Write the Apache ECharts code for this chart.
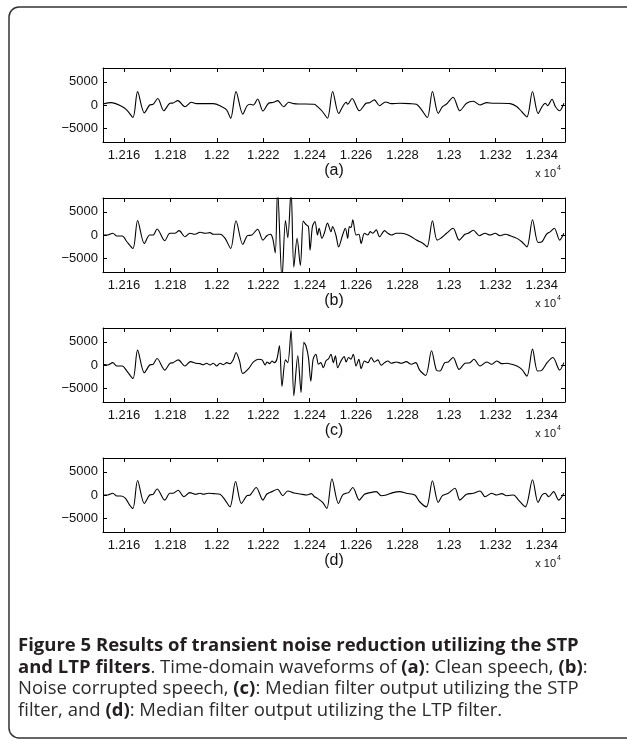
<!DOCTYPE html>
<html>
<head>
<meta charset="utf-8">
<script src="https://cdn.jsdelivr.net/npm/echarts@6/dist/echarts.min.js"></script>
<style>
  html, body { margin: 0; padding: 0; background: #fff; }
  #main { width: 627px; height: 741px; }
</style>
</head>
<body>
<div id="main"></div>
<script>
// sample index / amplitude pairs (vertices of the trace)
const sampA = [12151, 12154.5, 12158.8, 12161.3, 12163.9, 12165.9, 12168.8, 12171.1, 12172.6, 12174.6, 12177.2, 12179.8, 12181.2, 12183.2, 12186.3, 12189.1, 12191.3, 12195.6, 12198.5, 12201.4, 12204.3, 12206, 12208.3, 12211.2, 12213, 12214.4, 12215.8, 12217.6, 12219.9, 12222.3, 12224.5, 12226.2, 12228.8, 12231, 12233.2, 12236, 12242, 12243.4, 12245.6, 12247.7, 12249.9, 12252.5, 12254.2, 12255.7, 12256.4, 12258.3, 12261.4, 12264.3, 12265.8, 12267.9, 12270.1, 12272.7, 12275.2, 12278.8, 12283.1, 12286, 12288.1, 12290.7, 12292.9, 12295.4, 12297.2, 12299, 12301.8, 12304.7, 12307.6, 12310.5, 12313.4, 12316.3, 12319.2, 12322, 12326.4, 12329.3, 12331.4, 12333.6, 12336, 12338.4, 12340.1, 12341.5, 12342.5, 12344.4, 12345.9, 12347.7, 12349.5];
const cleanSpeech = [220, 510, -220, -1100, -2700, 2900, -1700, 0, 150, 1390, -1240, 370, 440, 950, -370, 580, 290, 290, 290, -150, -1100, -2900, 2900, -1970, -220, 150, 0, 1310, -1310, 370, 580, 950, -370, 580, 290, 220, 150, -370, -1460, -2850, 2920, -1830, -370, 580, 150, 1390, -1240, 370, 510, 1100, -150, 660, 290, 370, 290, 150, -950, -2700, 2920, -1830, -370, 220, 1680, -1240, 370, 800, 0, 510, 370, 370, 290, -370, -1460, -2560, 2920, -1830, -370, 370, -150, 1240, -370, -1240, 370];

const sampB = [12151, 12153.1, 12155.2, 12157, 12159.3, 12161.3, 12163.9, 12165.9, 12168.8, 12171.1, 12172.6, 12174.3, 12177.6, 12179.8, 12181.9, 12183.8, 12186.3, 12188.4, 12190.6, 12192.8, 12194.9, 12197.1, 12198.5, 12201.4, 12203.6, 12206, 12208.3, 12211.2, 12213.2, 12215.1, 12217.6, 12219.9, 12221.6, 12223.1, 12224.1, 12225.2, 12226.2, 12228.1, 12229.6, 12230.6, 12232, 12233.2, 12234.6, 12236, 12237.2, 12237.6, 12238.6, 12239.5, 12240.2, 12241.2, 12242.3, 12243.4, 12244.1, 12245.3, 12246.3, 12247.7, 12249.2, 12249.9, 12251.3, 12252.5, 12254.2, 12255.4, 12256.4, 12257.1, 12257.8, 12258.6, 12260, 12261.2, 12262.2, 12263.6, 12265.1, 12266.1, 12267.2, 12268.7, 12270.1, 12272.3, 12273.7, 12275.2, 12277.3, 12279.5, 12281.6, 12283.8, 12286, 12288.9, 12290.6, 12292.9, 12294.9, 12296.4, 12299, 12301.8, 12304.4, 12306.9, 12308.3, 12310.5, 12313.1, 12315.6, 12317.7, 12319.9, 12322, 12324.2, 12326.4, 12329.3, 12331.4, 12333.6, 12336, 12338.4, 12340.1, 12342, 12343.7, 12345.4, 12347.7, 12349.5];
const noisySpeech = [0, 0, 370, -220, -220, -1460, -2920, 3140, -1830, 0, 0, 1310, -1240, 370, 370, 950, -370, 370, 150, 580, 370, 510, 150, 150, -730, -2920, 3070, -2040, -150, 0, 1240, -1100, -150, 150, -730, -3870, 9800, -9500, 3140, -580, 9800, -6940, -730, -6600, 3000, 2770, 2190, 1830, -3290, 1830, 2920, 0, 1460, -730, 370, 2560, 730, 1830, 0, -2560, 0, 1460, -730, 1830, 1610, 3290, 0, 150, -1830, 370, 0, 730, 370, 1100, -370, 950, 370, 0, 370, 370, 150, -370, -1100, -1830, -2560, 3070, -1100, -730, 370, 1460, -1100, 150, 370, 1020, -150, 370, 0, 370, -150, 150, -150, -730, -1460, -2560, 3290, -1610, -1460, 150, 730, 1460, -1100, 370];

const sampC = [12151, 12153.1, 12155.2, 12157, 12159.3, 12161.3, 12163.9, 12165.9, 12168.8, 12171.1, 12172.6, 12174.3, 12177.6, 12179.8, 12181.2, 12183.4, 12186.3, 12188.7, 12191, 12192.8, 12194.2, 12195.6, 12197.1, 12198.5, 12200, 12201.4, 12202.9, 12204.3, 12205.7, 12207.2, 12208.3, 12209.8, 12211.2, 12213.7, 12215.8, 12218, 12219.5, 12220.9, 12221.6, 12222.8, 12223.8, 12224.8, 12225.9, 12227, 12228.1, 12229.6, 12230.6, 12232, 12233.2, 12234.9, 12236.3, 12237.5, 12238.4, 12239.5, 12240.5, 12241.5, 12242.7, 12243.8, 12244.8, 12245.9, 12247, 12248.2, 12249.2, 12250.2, 12251.1, 12252.1, 12253.5, 12254.9, 12255.7, 12256.8, 12257.8, 12258.8, 12260, 12261.2, 12262.2, 12263.6, 12265.1, 12266.5, 12267.9, 12269.4, 12270.8, 12272.3, 12273.7, 12275.2, 12277.3, 12279.5, 12281.6, 12283.8, 12285.7, 12287.4, 12290, 12292.5, 12294.6, 12296.1, 12298.2, 12299.7, 12301.8, 12304.4, 12306.9, 12309.1, 12310.8, 12313.4, 12316.3, 12318.4, 12320.6, 12322.8, 12324.9, 12327.1, 12329.3, 12331.4, 12333.6, 12336, 12338.2, 12340.1, 12342.3, 12344.8, 12347.7, 12349.5];
const stpOutput = [150, 0, 510, -220, -220, -1310, -2920, 3210, -1680, 0, 150, 1390, -1100, 370, 510, 1100, -220, 730, 370, 290, 70, 370, 0, 370, -220, 370, 70, 510, 290, 1240, 2700, 880, -1830, -800, 660, 1240, 1100, 0, 660, 290, 880, 510, 1240, 4160, -4600, 1100, 510, 7450, -6640, 1970, -5910, 4890, 4160, 1610, -3500, 1240, 2340, 150, 510, -580, 880, 1390, 2340, 510, 1970, -580, 880, 1830, 660, 1610, 1240, 2340, -220, 1240, -800, 880, 510, 1610, 660, 1100, -70, 510, 880, 370, 660, 370, 730, 150, 510, -1100, -2260, 3070, -1100, -1310, 510, 660, 1610, -950, 370, 510, 1240, -220, 660, 150, 880, 290, 370, 150, -220, -950, -2410, 3430, -1310, -1100, 510, 1610, -1100, 510];

const sampD = [12151, 12153.1, 12155.2, 12157, 12158.8, 12160.7, 12162.5, 12163.9, 12165.9, 12168.8, 12171.1, 12172.6, 12174.3, 12177.6, 12179.8, 12181.2, 12183.4, 12185.8, 12188.4, 12191, 12192.8, 12194.2, 12196.4, 12198.5, 12201.4, 12203.6, 12205.7, 12208.1, 12210.6, 12213, 12214.4, 12217, 12219.9, 12221.6, 12223.8, 12226.2, 12228.4, 12230.6, 12233.2, 12236, 12238.9, 12240.7, 12242.1, 12243.4, 12245.6, 12247.4, 12249.6, 12252.4, 12254.2, 12255.7, 12256.8, 12258.6, 12261.4, 12263.6, 12266.1, 12268.7, 12270.8, 12273, 12275.9, 12278.8, 12281.6, 12285.3, 12287.4, 12290.3, 12292.9, 12295.4, 12297.2, 12299.7, 12302.6, 12304.7, 12307.6, 12310.5, 12313.4, 12315.6, 12318.4, 12320.6, 12322.8, 12324.9, 12327.8, 12330, 12332.9, 12336, 12338.4, 12340.1, 12341.5, 12343, 12345.1, 12347.3, 12349.5];
const ltpOutput = [0, 0, 370, -220, -220, -730, -2190, -2920, 3140, -1830, 0, 150, 1310, -1100, 370, 370, 1020, -370, 510, 150, 370, 150, 370, 290, 150, -1100, -2560, 2920, -1830, -150, 0, 1610, -1100, 220, 730, 1240, -150, 880, 440, 220, 0, 290, -370, -730, -1610, -2920, 3500, -1830, 0, 370, 510, 1610, -1100, 150, 510, 730, -150, 0, 510, 730, 370, 0, -1460, -2560, 3070, -1610, -150, 370, 1460, -1100, 150, 370, 880, -370, 370, 0, 290, -150, 0, -1100, -2560, 3290, -1610, 0, 370, -370, 730, -1100, 370];

const xTicks = [12160, 12180, 12200, 12220, 12240, 12260, 12280, 12300, 12320, 12340];
const yTicks = [-5000, 0, 5000];
const panelNames = ['(a)', '(b)', '(c)', '(d)'];
const captionLines = [
  '{b|Figure 5 Results of transient noise reduction utilizing the STP}',
  '{b|and LTP filters}{n|. Time-domain waveforms of }{b|(a)}{n|: Clean speech, }{b|(b)}{n|:}',
  '{n|Noise corrupted speech, }{b|(c)}{n|: Median filter output utilizing the STP}',
  '{n|filter, and }{b|(d)}{n|: Median filter output utilizing the LTP filter.}'
];

const panels = [[sampA, cleanSpeech], [sampB, noisySpeech], [sampC, stpOutput], [sampD, ltpOutput]];
const tops = [68, 198, 328, 458];
const plotLeft = 103, plotW = 462, plotH = 74;
const axisFont = 'Liberation Sans, Arial, sans-serif';

const fmtX = v => String(parseFloat((v / 10000).toFixed(4)));
const fmtY = v => (v < 0 ? '\u2212' + Math.abs(v) : String(v));

const grid = [], xAxis = [], yAxis = [], series = [], graphic = [];
panels.forEach((p, i) => {
  grid.push({ left: plotLeft, top: tops[i], width: plotW, height: plotH, show: false });
  const line = { show: true, onZero: false, lineStyle: { color: '#000', width: 1 } };
  ['bottom', 'top'].forEach(pos => {
    xAxis.push({
      type: 'value', gridIndex: i, position: pos, min: 12151, max: 12350,
      axisLine: line,
      axisTick: { inside: true, length: 4, customValues: xTicks, lineStyle: { color: '#000' } },
      axisLabel: {
        show: pos === 'bottom', customValues: xTicks, formatter: fmtX,
        fontSize: 13, color: '#111', margin: 7, fontFamily: axisFont
      },
      splitLine: { show: false }
    });
  });
  ['left', 'right'].forEach(pos => {
    yAxis.push({
      type: 'value', gridIndex: i, position: pos, min: -8000, max: 8000,
      axisLine: line,
      axisTick: { inside: true, length: 4, customValues: yTicks, lineStyle: { color: '#000' } },
      axisLabel: {
        show: pos === 'left', customValues: yTicks, formatter: fmtY,
        fontSize: 13, color: '#111', margin: 5, fontFamily: axisFont
      },
      splitLine: { show: false }
    });
  });
  series.push({
    type: 'line', xAxisIndex: 2 * i, yAxisIndex: 2 * i,
    data: p[0].map((x, k) => [x, p[1][k]]),
    symbol: 'none', clip: true, smooth: 0.3,
    lineStyle: { color: '#000', width: 1.1 }
  });

  const t = tops[i];
  graphic.push({
    type: 'text', x: plotLeft + plotW / 2, y: t + 103,
    style: { text: panelNames[i], font: '16px ' + axisFont, fill: '#111', align: 'center', verticalAlign: 'middle' }
  });
  graphic.push({
    type: 'text', x: 556, y: t + 106,
    style: { text: 'x 10', font: '11px ' + axisFont, fill: '#111', align: 'right', verticalAlign: 'middle' }
  });
  graphic.push({
    type: 'text', x: 557, y: t + 100,
    style: { text: '4', font: '7px ' + axisFont, fill: '#111', align: 'left', verticalAlign: 'middle' }
  });
});

// rounded frame round the figure and caption
graphic.push({
  type: 'rect', shape: { x: 9, y: 7, width: 630, height: 731, r: 10 },
  style: { fill: 'none', stroke: '#333', lineWidth: 1.5 }
});

const capFont = 'Open Sans, Noto Sans, sans-serif';
captionLines.forEach((txt, k) => {
  graphic.push({
    type: 'text', x: 18, y: 646 + k * 21.5,
    style: {
      text: txt, align: 'left', verticalAlign: 'middle',
      rich: {
        b: { fontFamily: capFont, fontWeight: 'bold', fontSize: 18.5, fill: '#231f20' },
        n: { fontFamily: capFont, fontWeight: 'normal', fontSize: 18.5, fill: '#2b2b2b' }
      }
    }
  });
});

const chart = echarts.init(document.getElementById('main'), null, { renderer: 'canvas' });
chart.setOption({
  animation: false,
  backgroundColor: '#fff',
  grid, xAxis, yAxis, series, graphic
});
</script>
</body>
</html>
